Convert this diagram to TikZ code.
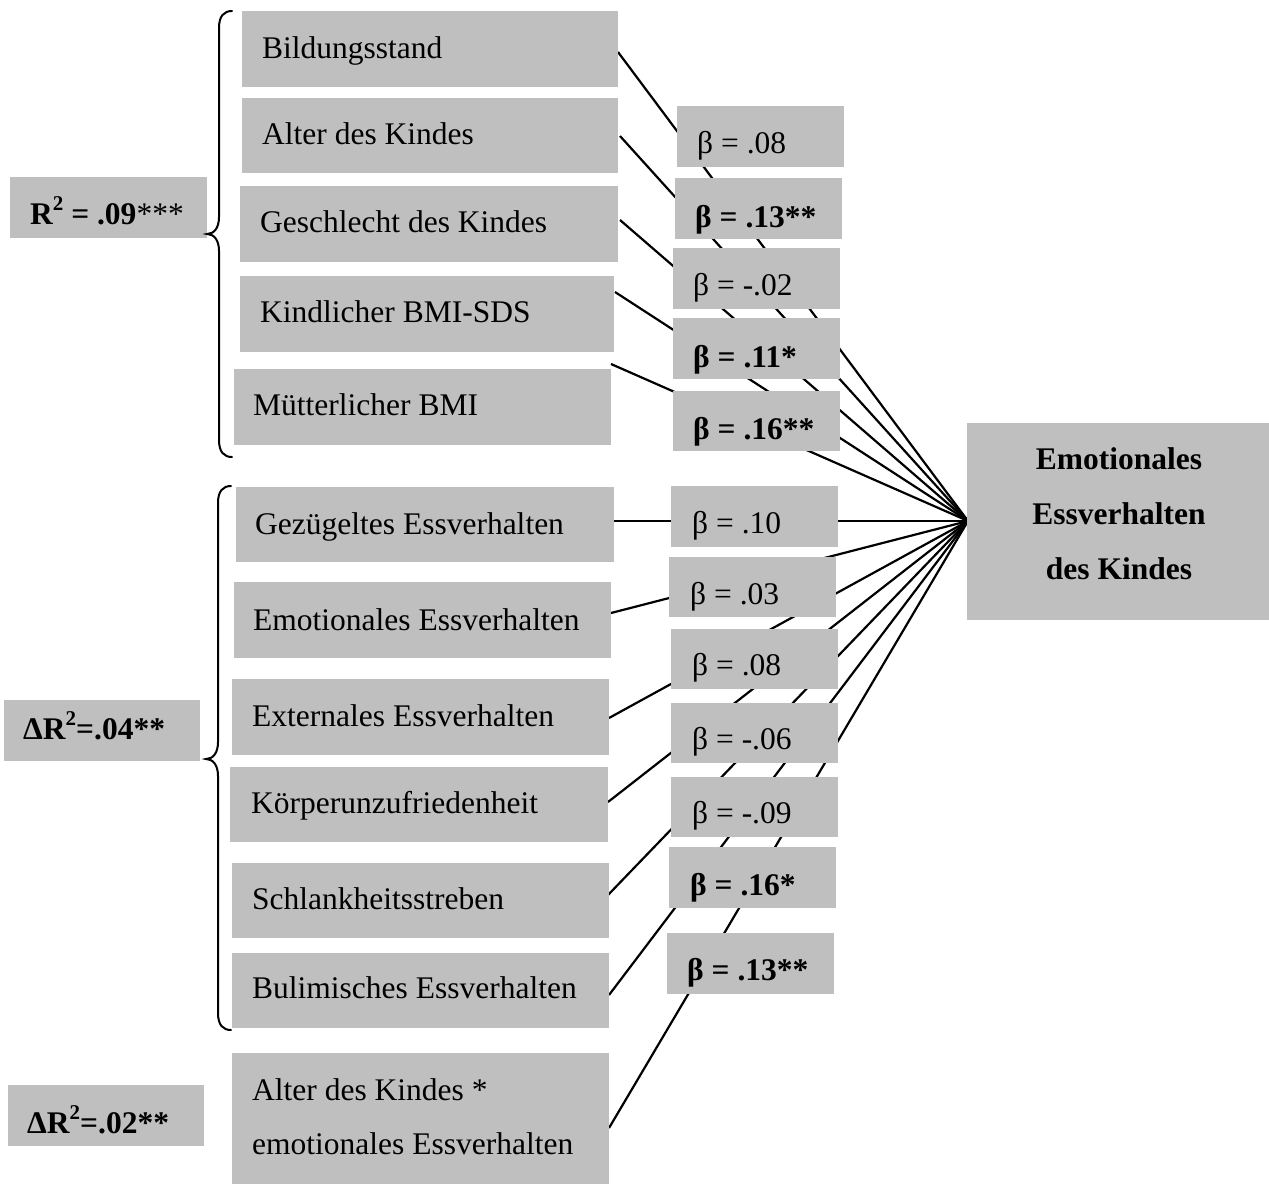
\documentclass[tikz,border=0pt]{standalone}
\usepackage{fontspec}
\setmainfont{Liberation Serif}
\usetikzlibrary{fit,backgrounds}

\definecolor{boxgray}{HTML}{BFBFBF}

\tikzset{
  box/.style={fill=boxgray, inner sep=0pt, outer sep=0pt},
  lbl/.style={anchor=base west, inner sep=0pt, font=\fontsize{31.5}{38}\selectfont},
  link/.style={line width=2.2pt, black},
  brace/.style={line width=2pt, black, line cap=round}
}

% raised exponent in the R-squared labels
\newcommand{\sqexp}{\raisebox{0.42em}{\fontsize{21}{21}\selectfont\bfseries 2}}

% box with its own text: name, corners, text origin (base west), text
\newcommand{\gbox}[8]{%
  \node[box, fit={(#2,#3) (#4,#5)}] (#1) {};
  \node[lbl] (#1t) at (#6,#7) {#8};
}

\begin{document}
\begin{tikzpicture}[x=1pt,y=-1pt]
\useasboundingbox (0,0) rectangle (1269,1184);

% left block labels
\gbox{r1}{10}{177}{207}{238}{30}{224}{\textbf{R\sqexp{} = .09}***}
\gbox{r2}{4}{700}{200}{761}{23}{739}{\textbf{ΔR\sqexp=.04**}}
\gbox{r3}{8}{1085}{204}{1146}{27}{1133}{\textbf{ΔR\sqexp=.02**}}

% predictors
\gbox{p1}{242}{11}{618}{87}{262}{58}{Bildungsstand}
\gbox{p2}{242}{98}{618}{173}{262}{144}{Alter des Kindes}
\gbox{p3}{240}{186}{618}{262}{260}{232}{Geschlecht des Kindes}
\gbox{p4}{240}{276}{614}{352}{260}{322}{Kindlicher BMI-SDS}
\gbox{p5}{234}{369}{611}{445}{253}{415}{Mütterlicher BMI}
\gbox{p6}{236}{487}{614}{562}{255}{534}{Gezügeltes Essverhalten}
\gbox{p7}{234}{582}{611}{658}{253}{630}{Emotionales Essverhalten}
\gbox{p8}{232}{679}{609}{755}{252}{726}{Externales Essverhalten}
\gbox{p9}{230}{767}{608}{842}{251}{813}{Körperunzufriedenheit}
\gbox{p10}{232}{863}{609}{938}{252}{909}{Schlankheitsstreben}
\gbox{p11}{232}{953}{609}{1028}{252}{998}{Bulimisches Essverhalten}
\node[box, fit={(232,1053) (609,1184)}] (p12) {};
\node[lbl, align=left, font=\fontsize{31.5}{54}\selectfont, anchor=north west]
  (p12t) at (252,1078) {Alter des Kindes *\\emotionales Essverhalten};

% standardised coefficients
\gbox{b1}{677}{106}{844}{167}{697}{153}{β = .08}
\gbox{b2}{675}{178}{842}{239}{695}{227}{\textbf{β = .13**}}
\gbox{b3}{673}{248}{840}{309}{693}{295}{β = -.02}
\gbox{b4}{673}{318}{840}{379}{693}{367}{\textbf{β = .11*}}
\gbox{b5}{673}{391}{840}{451}{693}{439}{\textbf{β = .16**}}
\gbox{b6}{671}{486}{838}{547}{692}{533}{β = .10}
\gbox{b7}{669}{557}{836}{617}{690}{604}{β = .03}
\gbox{b8}{671}{629}{838}{689}{692}{675}{β = .08}
\gbox{b9}{671}{703}{838}{763}{692}{749}{β = -.06}
\gbox{b10}{671}{777}{838}{837}{692}{823}{β = -.09}
\gbox{b11}{669}{847}{836}{908}{690}{895}{\textbf{β = .16*}}
\gbox{b12}{667}{933}{834}{994}{687}{980}{\textbf{β = .13**}}

% criterion
\node[box, fit={(967,423) (1269,620)}] (y) {};
\node[align=center, inner sep=0pt, font=\bfseries\fontsize{31.5}{55}\selectfont]
  (yt) at (1119,514) {Emotionales\\Essverhalten\\des Kindes};

% start points of the paths on the predictor boxes
\coordinate (s1) at (618,52);
\coordinate (s2) at (620,136);
\coordinate (s3) at (620,220);
\coordinate (s4) at (615,292);
\coordinate (s5) at (611,364);
\coordinate (s6) at (614,521);
\coordinate (s7) at (611,613);
\coordinate (s8) at (609,718);
\coordinate (s9) at (608,802);
\coordinate (s10) at (608,895);
\coordinate (s11) at (609,995);
\coordinate (s12) at (609,1128);
\coordinate (hub) at (968,521);

\begin{pgfonlayer}{background}
  \foreach \i in {1,...,12} {
    \draw[link] (s\i) -- (hub);
  }
\end{pgfonlayer}

% braces grouping the blocks
\draw[brace] (232,11) .. controls (224,11) and (219,16) .. (219,28)
  -- (219,217) .. controls (219,228) and (214,234) .. (207,234)
  .. controls (214,234) and (219,240) .. (219,251)
  -- (219,440) .. controls (219,452) and (224,457) .. (232,457);
\draw[brace] (231,486) .. controls (223,486) and (218,491) .. (218,503)
  -- (218,742) .. controls (218,753) and (213,759) .. (206,759)
  .. controls (213,759) and (218,765) .. (218,776)
  -- (218,1013) .. controls (218,1025) and (223,1030) .. (231,1030);
\end{tikzpicture}
\end{document}
